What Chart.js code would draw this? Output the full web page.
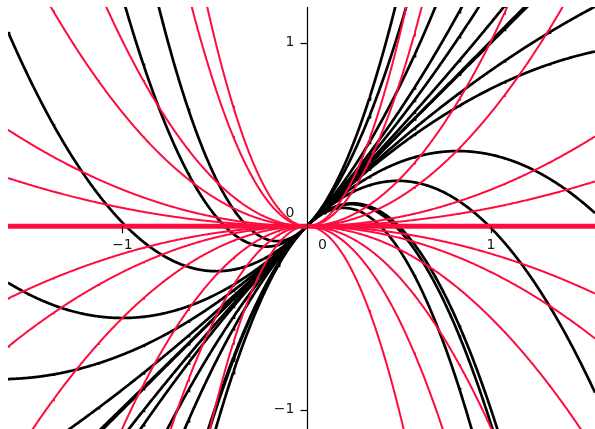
<!DOCTYPE html>
<html>
<head>
<meta charset="utf-8">
<script src="https://cdn.jsdelivr.net/npm/chart.js@4/dist/chart.umd.min.js"></script>
<style>
  html, body { margin: 0; padding: 0; background: #ffffff; }
  #wrap { width: 595px; height: 429px; position: relative; }
</style>
</head>
<body>
<div id="wrap"><canvas id="c" width="595" height="429"></canvas></div>
<script>
// ---- data ----
// black family: y = x + a*x^2
const blackCoefs = [3.1, 2.25, 1.02, 0.5, 0.3, 0.11, 0.01, 0, -0.15, -0.25, -0.61, -1.01, -2.0, -2.08, -2.5];
// red family: y = c*x^2
const redCoefs = [4.1, 3.07, 1.01, 0.62, 0.2, 0.1, -0.15, -0.25, -0.5, -1.1, -2.03, -4.0];
// thick red line: c = 0
const redZeroCoef = [0];
// axes
const xRange = [-1.621, 1.564];
const yRange = [-1.105, 1.195];
const xTickValues = [-1, 1];
const xTickLabels = ['\u22121', '1'];
const yTickValues = [-1, 1];
const yTickLabels = ['\u22121', '1'];
const originLabel = '0';

// sampling resolution of the drawn curves
const sampleCount = 600;
function samplesX() {
  const xs = [];
  for (let i = 0; i <= sampleCount; i++) xs.push(xRange[0] + (xRange[1] - xRange[0]) * i / sampleCount);
  return xs;
}
const xs = samplesX();
function curve(lin, quad) { return xs.map(x => ({ x: x, y: lin * x + quad * x * x })); }

const RED = 'rgb(255, 12, 62)';
const datasets = [];
redZeroCoef.forEach(c => datasets.push({ data: curve(0, c), borderColor: RED, borderWidth: 5, order: 0 }));
redCoefs.forEach(c => datasets.push({ data: curve(0, c), borderColor: RED, borderWidth: 2, order: 1 }));
blackCoefs.forEach(a => datasets.push({ data: curve(1, a), borderColor: '#000000', borderWidth: 2.7, order: 2 }));
datasets.forEach(d => { d.showLine = true; d.pointRadius = 0; d.pointHoverRadius = 0; d.tension = 0; d.fill = false; });

const axesPlugin = {
  id: 'centerAxes',
  afterDatasetsDraw(chart) {
    const { ctx, chartArea, scales } = chart;
    const sx = scales.x, sy = scales.y;
    const ax = Math.round(sx.getPixelForValue(0)) + 0.5;
    const ay = sy.getPixelForValue(0);
    ctx.save();
    ctx.strokeStyle = '#000';
    ctx.lineWidth = 1.2;
    ctx.beginPath();
    ctx.moveTo(ax, chartArea.top);
    ctx.lineTo(ax, chartArea.bottom);
    ctx.stroke();
    // y ticks
    yTickValues.forEach(v => {
      const py = Math.round(sy.getPixelForValue(v)) + 0.5;
      ctx.beginPath(); ctx.moveTo(ax - 7, py); ctx.lineTo(ax, py); ctx.stroke();
    });
    // x ticks
    xTickValues.forEach(v => {
      const px = Math.round(sx.getPixelForValue(v)) + 0.5;
      ctx.beginPath(); ctx.moveTo(px, ay); ctx.lineTo(px, ay + 7); ctx.stroke();
    });
    ctx.fillStyle = '#1a1a1a';
    ctx.font = '14px "DejaVu Sans"';
    ctx.textBaseline = 'middle';
    ctx.textAlign = 'right';
    yTickValues.forEach((v, i) => {
      ctx.fillText(yTickLabels[i], ax - 13, sy.getPixelForValue(v));
    });
    ctx.fillText(originLabel, ax - 13, ay - 13);
    ctx.textAlign = 'center';
    xTickValues.forEach((v, i) => {
      ctx.fillText(xTickLabels[i], sx.getPixelForValue(v), ay + 19);
    });
    ctx.fillText(originLabel, ax + 15, ay + 19);
    ctx.restore();
  }
};

new Chart(document.getElementById('c'), {
  type: 'scatter',
  data: { datasets: datasets },
  options: {
    responsive: false,
    animation: false,
    events: [],
    layout: { padding: { left: 8, top: 7, right: 0, bottom: 0 } },
    plugins: { legend: { display: false }, tooltip: { enabled: false } },
    scales: {
      x: { type: 'linear', min: xRange[0], max: xRange[1], display: false },
      y: { type: 'linear', min: yRange[0], max: yRange[1], display: false }
    }
  },
  plugins: [axesPlugin]
});
</script>
</body>
</html>
